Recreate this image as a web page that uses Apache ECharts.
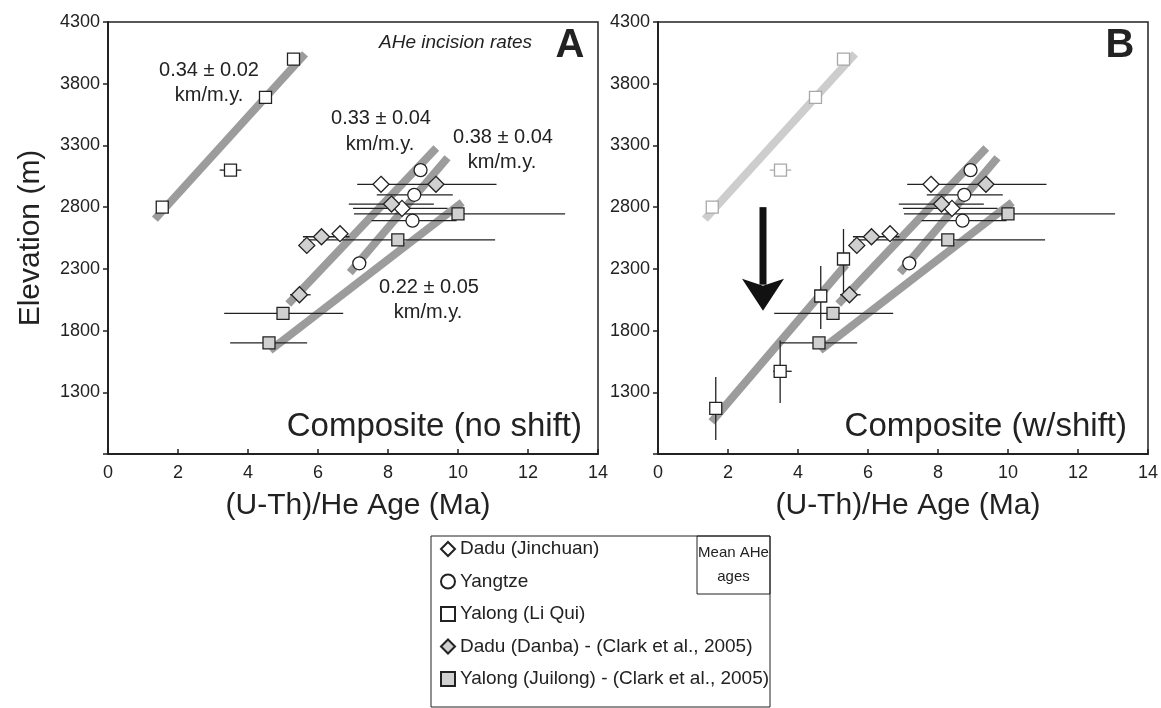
<!DOCTYPE html>
<html>
<head>
<meta charset="utf-8">
<script src="https://cdn.jsdelivr.net/npm/echarts@6.0.0/dist/echarts.min.js"></script>
<style>
  html, body { margin: 0; padding: 0; background: #fff; }
  #chart { width: 1161px; height: 708px; }
</style>
</head>
<body>
<div id="chart"></div>
<script>
// points: [age (Ma), elevation (m)] + optional [ageLow, ageHigh, elevLow, elevHigh]
const dJinchuan = [[7.8, 2985], [8.4, 2790, 7.0, 9.7], [6.63, 2585]];
const yangtze = [[8.93, 3100], [8.75, 2900, 7.68, 9.85], [8.7, 2690, 7.53, 9.96], [7.18, 2345]];
const liQui = [[1.55, 2800], [3.5, 3100, 3.19, 3.81], [4.5, 3690], [5.3, 4000]];
const liQuiShifted = [
  [5.3, 2380, null, null, 2111, 2623],
  [4.65, 2080, null, null, 1813, 2324],
  [3.49, 1470, 3.29, 3.82, 1214, 1719],
  [1.65, 1170, null, null, 913, 1423]
];
const dDanba = [[9.37, 2985, 7.12, 11.1], [8.1, 2825, 6.88, 9.31], [6.1, 2560, 5.57, 6.9], [5.68, 2490], [5.47, 2090, 5.2, 5.79]];
const yJuilong = [[10.0, 2745, 7.03, 13.06], [8.28, 2535, 5.58, 11.06], [5.0, 1940, 3.32, 6.72], [4.6, 1700, 3.49, 5.69]];

// regression lines [[x1, y1], [x2, y2]]
const fitLiQui = [[1.34, 2703], [5.63, 4042]];
const fitA = [[5.15, 2015], [9.38, 3280]];
const fitB = [[6.91, 2270], [9.7, 3200]];
const fitC = [[4.63, 1640], [10.12, 2838]];
const fitShifted = [[1.53, 1060], [5.37, 2335]];

// arrow in panel B: [x, top, neck, tip]
const arrowB = [[3.0, 2800, 2180, 1960]];

const xTicks = { min: 0, max: 14, interval: 2 };
const yTicks = { min: 800, max: 4300, interval: 500 };

const legendNames = ['Dadu (Jinchuan)', 'Yangtze', 'Yalong (Li Qui)', 'Dadu (Danba) - (Clark et al., 2005)', 'Yalong (Juilong) - (Clark et al., 2005)'];

const F = 'Liberation Sans, Arial, Helvetica, sans-serif';
const INK = '#222';
const GREY_FILL = '#d0d0d0';

function scatter(name, data, gi, symbol, size, fill, stroke) {
  return {
    type: 'scatter', name: name, xAxisIndex: gi, yAxisIndex: gi,
    data: data.map(d => [d[0], d[1]]),
    symbol: symbol, symbolSize: size,
    itemStyle: { color: fill, borderColor: stroke || INK, borderWidth: 1.3, opacity: 1 },
    emphasis: { disabled: true }, z: 5, silent: true
  };
}

function fitLine(data, gi, color) {
  return {
    type: 'line', xAxisIndex: gi, yAxisIndex: gi, data: data,
    showSymbol: false, symbol: 'none', silent: true,
    lineStyle: { color: color, width: 8, cap: 'butt' }, z: 1
  };
}

function errBars(groups, gi, color) {
  const h = [], v = [];
  groups.forEach(g => g.forEach(d => {
    if (d[2] != null) h.push([d[2], d[1], d[3]]);
    if (d[4] != null) v.push([d[0], d[4], d[5]]);
  }));
  const style = { stroke: color || INK, lineWidth: 1.3 };
  return [
    {
      type: 'custom', xAxisIndex: gi, yAxisIndex: gi, data: h, silent: true, z: 3,
      encode: { x: [0, 2], y: 1 },
      renderItem: function (params, api) {
        const a = api.coord([api.value(0), api.value(1)]);
        const b = api.coord([api.value(2), api.value(1)]);
        return { type: 'line', shape: { x1: a[0], y1: a[1], x2: b[0], y2: b[1] }, style: style };
      }
    },
    {
      type: 'custom', xAxisIndex: gi, yAxisIndex: gi, data: v, silent: true, z: 3,
      encode: { x: 0, y: [1, 2] },
      renderItem: function (params, api) {
        const a = api.coord([api.value(0), api.value(1)]);
        const b = api.coord([api.value(0), api.value(2)]);
        return { type: 'line', shape: { x1: a[0], y1: a[1], x2: b[0], y2: b[1] }, style: style };
      }
    }
  ];
}

function xAxis(gi) {
  return {
    type: 'value', gridIndex: gi, min: xTicks.min, max: xTicks.max, interval: xTicks.interval,
    name: '(U-Th)/He Age (Ma)', nameLocation: 'middle', nameGap: 37,
    nameTextStyle: { fontSize: 30, color: INK, fontFamily: F, padding: [0, 0, 0, 10] },
    axisLine: { show: true, onZero: false, lineStyle: { color: INK, width: 2 } },
    axisTick: { show: true, inside: true, length: 5, lineStyle: { color: INK, width: 1.5 } },
    axisLabel: { fontSize: 18, color: INK, margin: 10, fontFamily: F },
    splitLine: { show: false }
  };
}

function yAxis(gi, name) {
  return {
    type: 'value', gridIndex: gi, min: yTicks.min, max: yTicks.max, interval: yTicks.interval,
    name: name, nameLocation: 'middle', nameGap: 62,
    nameTextStyle: { fontSize: 30, color: INK, fontFamily: F },
    axisLine: { show: true, onZero: false, lineStyle: { color: INK, width: 2 } },
    axisTick: { show: true, inside: false, length: 5, lineStyle: { color: INK, width: 1.5 } },
    axisLabel: { fontSize: 18, color: INK, margin: 8, fontFamily: F,
      formatter: v => (v === yTicks.min ? '' : String(v)) },
    splitLine: { show: false }
  };
}

function txt(x, y, s, size, opts) {
  return Object.assign({
    type: 'text', x: x, y: y, silent: true,
    style: Object.assign({ text: s, fontSize: size, fontFamily: F, fill: INK, align: 'center', verticalAlign: 'middle' }, opts || {})
  });
}

const series = [
  // panel A
  fitLine(fitLiQui, 0, '#9c9c9c'),
  fitLine(fitA, 0, '#9c9c9c'),
  fitLine(fitB, 0, '#9c9c9c'),
  fitLine(fitC, 0, '#9c9c9c'),
  ...errBars([dJinchuan, yangtze, liQui, dDanba, yJuilong], 0),
  scatter(legendNames[0], dJinchuan, 0, 'diamond', 16, '#fff'),
  scatter(legendNames[1], yangtze, 0, 'circle', 13, '#fff'),
  scatter(legendNames[2], liQui, 0, 'rect', 12, '#fff'),
  scatter(legendNames[3], dDanba, 0, 'diamond', 16, GREY_FILL),
  scatter(legendNames[4], yJuilong, 0, 'rect', 12, GREY_FILL),
  // panel B
  fitLine(fitLiQui, 1, '#cdcdcd'),
  fitLine(fitA, 1, '#9c9c9c'),
  fitLine(fitB, 1, '#9c9c9c'),
  fitLine(fitC, 1, '#9c9c9c'),
  fitLine(fitShifted, 1, '#9c9c9c'),
  ...errBars([liQui], 1, '#b0b0b0'),
  ...errBars([dJinchuan, yangtze, liQuiShifted, dDanba, yJuilong], 1),
  {
    type: 'custom', xAxisIndex: 1, yAxisIndex: 1, data: arrowB, silent: true, z: 4,
    encode: { x: 0, y: [1, 3] },
    renderItem: function (params, api) {
      const top = api.coord([api.value(0), api.value(1)]);
      const neck = api.coord([api.value(0), api.value(2)]);
      const tip = api.coord([api.value(0), api.value(3)]);
      return {
        type: 'group', children: [
          { type: 'rect', shape: { x: top[0] - 3.5, y: top[1], width: 7, height: neck[1] - top[1] + 1 }, style: { fill: '#111' } },
          { type: 'polygon', shape: { points: [[neck[0] - 21, neck[1] - 5], [neck[0], neck[1] + 2], [neck[0] + 21, neck[1] - 5], [tip[0], tip[1]]] }, style: { fill: '#111' } }
        ]
      };
    }
  },
  scatter('Yalong (Li Qui) unshifted', liQui, 1, 'rect', 12, '#fff', '#a8a8a8'),
  scatter(legendNames[0], dJinchuan, 1, 'diamond', 16, '#fff'),
  scatter(legendNames[1], yangtze, 1, 'circle', 13, '#fff'),
  scatter(legendNames[2], liQuiShifted, 1, 'rect', 12, '#fff'),
  scatter(legendNames[3], dDanba, 1, 'diamond', 16, GREY_FILL),
  scatter(legendNames[4], yJuilong, 1, 'rect', 12, GREY_FILL)
];

const chart = echarts.init(document.getElementById('chart'), null, { renderer: 'canvas' });
chart.setOption({
  animation: false,
  backgroundColor: '#fff',
  textStyle: { fontFamily: F },
  grid: [
    { left: 108, top: 22, width: 490, height: 432, show: true, borderColor: INK, borderWidth: 1.5, containLabel: false },
    { left: 658, top: 22, width: 490, height: 432, show: true, borderColor: INK, borderWidth: 1.5, containLabel: false }
  ],
  xAxis: [xAxis(0), xAxis(1)],
  yAxis: [yAxis(0, 'Elevation (m)'), yAxis(1, '')],
  legend: {
    data: legendNames, orient: 'vertical', left: 440, top: 539, padding: 0,
    itemWidth: 14, itemHeight: 14, itemGap: 12.5, selectedMode: false,
    textStyle: { fontSize: 19, color: INK, fontFamily: F, lineHeight: 20 }
  },
  graphic: [
    { type: 'rect', shape: { x: 431, y: 536, width: 339, height: 171 }, style: { fill: 'none', stroke: INK, lineWidth: 1 }, silent: true },
    { type: 'rect', shape: { x: 697, y: 536, width: 73, height: 58 }, style: { fill: 'none', stroke: INK, lineWidth: 1 }, silent: true },
    txt(733.5, 553, 'Mean AHe', 15),
    txt(733.5, 577, 'ages', 15),
    txt(209, 70, '0.34 ± 0.02', 20),
    txt(209, 95, 'km/m.y.', 20),
    txt(381, 118, '0.33 ± 0.04', 20),
    txt(380, 144, 'km/m.y.', 20),
    txt(503, 137, '0.38 ± 0.04', 20),
    txt(502, 162, 'km/m.y.', 20),
    txt(429, 287, '0.22 ± 0.05', 20),
    txt(428, 312, 'km/m.y.', 20),
    txt(379, 43, 'AHe incision rates', 19, { align: 'left', fontStyle: 'italic' }),
    txt(570, 46, 'A', 40, { fontWeight: 'bold' }),
    txt(1120, 46, 'B', 40, { fontWeight: 'bold' }),
    txt(582, 427, 'Composite (no shift)', 33, { align: 'right' }),
    txt(1127, 427, 'Composite (w/shift)', 33, { align: 'right' })
  ],
  series: series
});
</script>
</body>
</html>
